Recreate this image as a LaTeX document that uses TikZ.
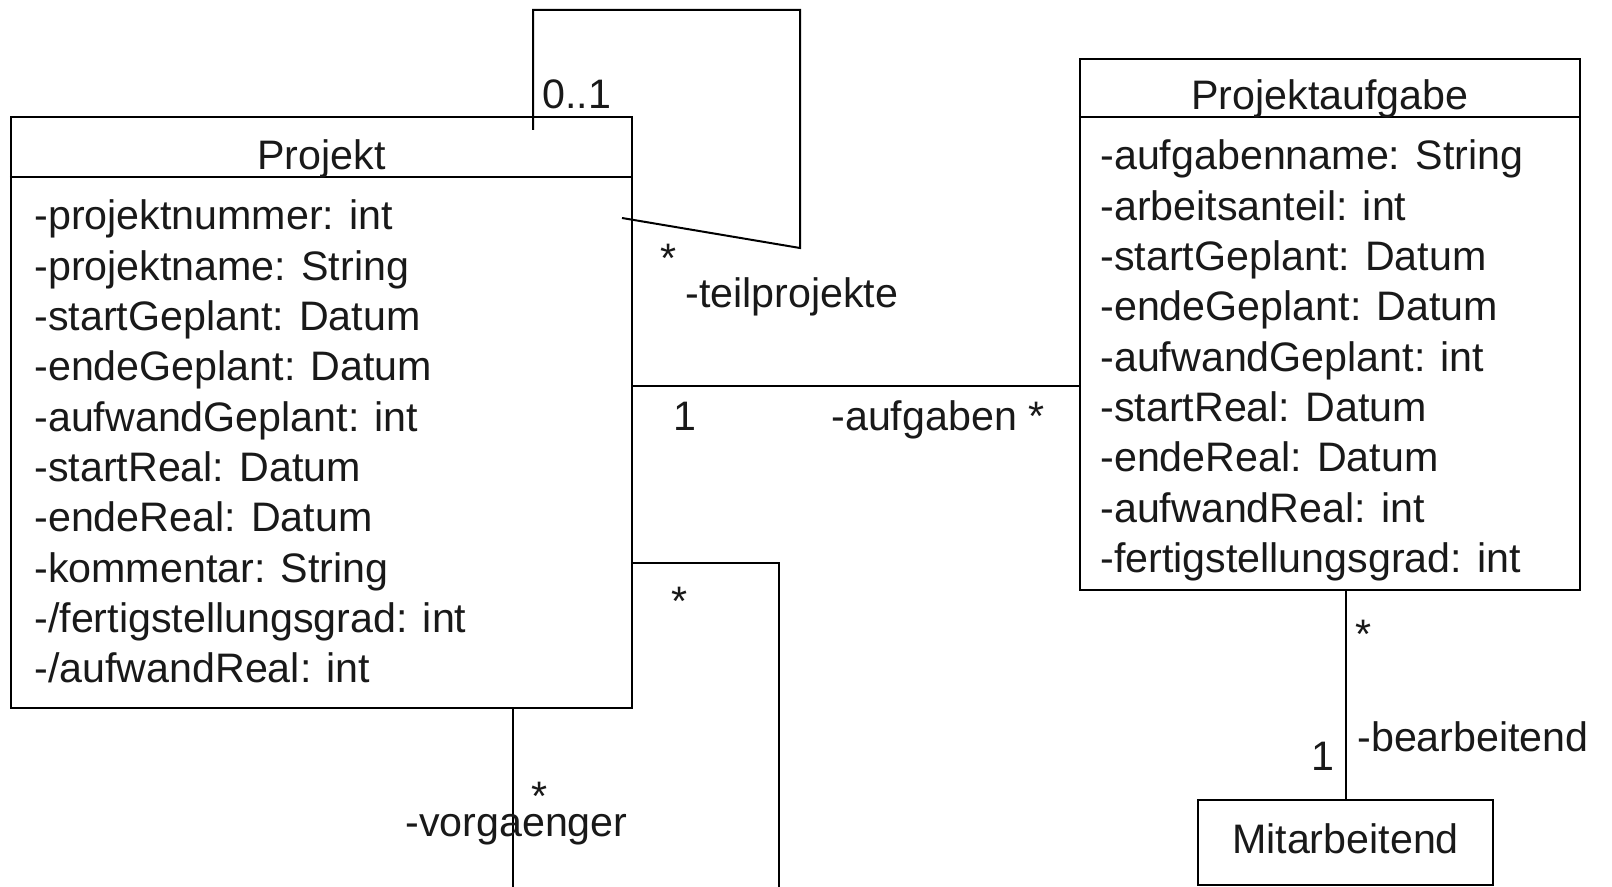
\documentclass[tikz,border=0pt]{standalone}
\usepackage{fontspec}
\setmainfont{Liberation Sans}
\begin{document}
\begin{tikzpicture}[x=0.5pt,y=-0.5pt,
  every node/.style={font=\fontsize{20.6}{24}\selectfont, inner sep=0pt, text=black!90},
  classbox/.style={draw, line width=1.1pt, rectangle, inner sep=0pt},
  attr/.style={anchor=base west},
  mult/.style={anchor=base},
  conn/.style={line width=1pt}]
\useasboundingbox (0,0) rectangle (1612,887);
\clip (0,0) rectangle (1612,887);
\fill[white] (0,0) rectangle (1612,887);

% Projekt
\node[classbox, minimum width=310.5pt, minimum height=295.5pt] (projekt) at (321.5,412.5) {};
\draw[line width=1.1pt] (projekt.west |- 0,177) -- (projekt.east |- 0,177);
\node[anchor=base] (projektT) at (321.5,170) {Projekt};
\node[attr] (p1) at (34,230) {-projektnummer: int};
\node[attr] (p2) at (34,280.3) {-projektname: String};
\node[attr] (p3) at (34,330.6) {-startGeplant: Datum};
\node[attr] (p4) at (34,380.9) {-endeGeplant: Datum};
\node[attr] (p5) at (34,431.2) {-aufwandGeplant: int};
\node[attr] (p6) at (34,481.5) {-startReal: Datum};
\node[attr] (p7) at (34,531.8) {-endeReal: Datum};
\node[attr] (p8) at (34,582.1) {-kommentar: String};
\node[attr] (p9) at (34,632.4) {-/fertigstellungsgrad: int};
\node[attr] (p10) at (34,682.7) {-/aufwandReal: int};

% Projektaufgabe
\node[classbox, minimum width=250pt, minimum height=265.5pt] (aufgabe) at (1330,324.5) {};
\draw[line width=1.1pt] (aufgabe.west |- 0,117) -- (aufgabe.east |- 0,117);
\node[anchor=base] (aufgabeT) at (1330,110) {Projektaufgabe};
\node[attr] (a1) at (1100,170) {-aufgabenname: String};
\node[attr] (a2) at (1100,220.3) {-arbeitsanteil: int};
\node[attr] (a3) at (1100,270.6) {-startGeplant: Datum};
\node[attr] (a4) at (1100,320.9) {-endeGeplant: Datum};
\node[attr] (a5) at (1100,371.2) {-aufwandGeplant: int};
\node[attr] (a6) at (1100,421.5) {-startReal: Datum};
\node[attr] (a7) at (1100,471.8) {-endeReal: Datum};
\node[attr] (a8) at (1100,522.1) {-aufwandReal: int};
\node[attr] (a9) at (1100,572.4) {-fertigstellungsgrad: int};

% Mitarbeitend
\node[classbox, minimum width=147.5pt, minimum height=42.5pt] (mit) at (1345.5,842.5) {};
\node[anchor=base] (mitT) at (1345.5,853) {Mitarbeitend};

% teilprojekte self-association
\coordinate (tA) at (533,130);
\coordinate (tB) at (533,10);
\coordinate (tC) at (800,10);
\coordinate (tD) at (800,248);
\coordinate (tE) at (622,218);
\draw[conn] (tA) -- (tB) -- (tC) -- (tD) -- (tE);
\node[attr] (m01) at (542,109) {0..1};
\node[mult] (mtp) at (669,273) {*};
\node[attr] (ltp) at (685,308) {-teilprojekte};

% aufgaben association
\draw[conn] (projekt.east |- 0,386) -- (aufgabe.west |- 0,386);
\node[mult] (m1a) at (685,431) {1};
\node[attr] (lauf) at (831,431) {-aufgaben *};

% vorgaenger self-association
\coordinate (vA) at (779,563);
\coordinate (vB) at (779,900);
\coordinate (vC) at (513,900);
\draw[conn] (projekt.east |- vA) -- (vA) -- (vB) -- (vC) -- (projekt.south -| vC);
\node[mult] (mv1) at (680,615) {*};
\node[mult] (mv2) at (540,810) {*};
\node[attr] (lvor) at (405,836) {-vorgaenger};

% bearbeitend association
\draw[conn] (aufgabe.south -| mit.north) -- (mit.north);
\node[mult] (mb1) at (1364,648) {*};
\node[mult] (mb2) at (1323,770) {1};
\node[attr] (lbear) at (1357,751) {-bearbeitend};
\end{tikzpicture}
\end{document}
